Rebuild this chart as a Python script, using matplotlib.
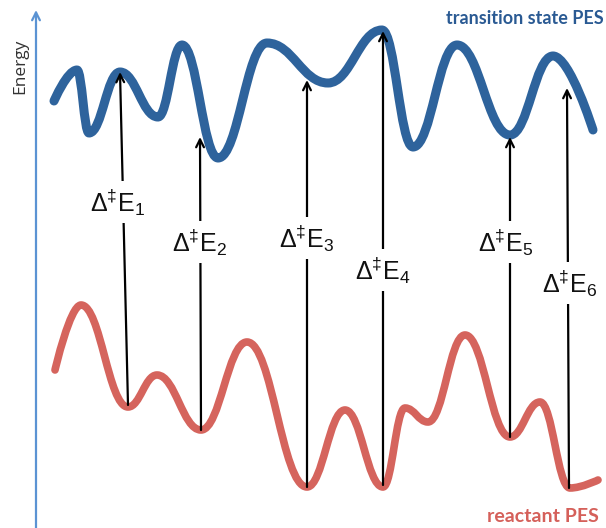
import matplotlib.pyplot as plt
from matplotlib.path import Path
from matplotlib.patches import PathPatch

plt.rcParams['font.family'] = ['Liberation Sans', 'DejaVu Sans']
plt.rcParams['mathtext.fontset'] = 'custom'
plt.rcParams['mathtext.rm'] = 'Liberation Sans'
plt.rcParams['mathtext.it'] = 'Liberation Sans'

# turning points of the two surfaces (picture coordinates, y downwards)
ts_x = [54, 77, 89, 120, 158, 182, 218, 267, 328, 382, 413, 457, 510, 553, 593]
ts_y = [101, 70, 133, 72, 117, 45, 158, 43, 83, 30, 147, 45, 135, 56, 130]
re_x = [55, 81, 128, 157, 201, 247, 307, 345, 383, 405, 428, 465, 510, 540, 570, 598]
re_y = [370, 305, 407, 375, 430, 342, 487, 410, 487, 408, 422, 335, 437, 402, 488, 480]

# barrier arrows: bottom (reactant) and top (transition state)
arrow_x0 = [128, 201, 307, 383, 510, 569]
arrow_y0 = [405, 430, 487, 485, 437, 488]
arrow_x1 = [120, 200, 307, 383, 510, 567]
arrow_y1 = [72, 137, 80, 31, 137, 88]
labels = [r'$\Delta^{\ddagger}\mathrm{E}_{%d}$' % i for i in range(1, 7)]
label_x = [118, 200, 307, 383, 506, 570]
label_y = [202, 242, 238, 270, 242, 283]


def smooth_path(xs, ys, k=0.42):
    verts = [(xs[0], ys[0])]
    codes = [Path.MOVETO]
    n = len(xs)
    for i in range(1, n):
        dx = xs[i] - xs[i - 1]
        c1 = (xs[i - 1] + k * dx, ys[i - 1]) if i > 1 else (xs[0], ys[0])
        c2 = (xs[i] - k * dx, ys[i]) if i < n - 1 else (xs[i], ys[i])
        verts += [c1, c2, (xs[i], ys[i])]
        codes += [Path.CURVE4] * 3
    return Path(verts, codes)


fig = plt.figure(figsize=(6.06, 5.28), dpi=100)
ax = fig.add_axes([0, 0, 1, 1])
ax.set_xlim(0, 606)
ax.set_ylim(528, 0)
ax.axis('off')

ax.add_patch(PathPatch(smooth_path(ts_x, ts_y), fill=False, edgecolor='#2e639c',
                       lw=6.5, capstyle='round', joinstyle='round', zorder=2))
ax.add_patch(PathPatch(smooth_path(re_x, re_y), fill=False, edgecolor='#d5645d',
                       lw=5.5, capstyle='round', joinstyle='round', zorder=2))

for i in range(len(labels)):
    ax.annotate('', xy=(arrow_x1[i], arrow_y1[i]), xytext=(arrow_x0[i], arrow_y0[i]),
                arrowprops=dict(arrowstyle='->', lw=1.6, color='black',
                                mutation_scale=14, shrinkA=0, shrinkB=0), zorder=3)
    ax.text(label_x[i], label_y[i], labels[i], fontsize=18, ha='center', va='center',
            color='#111111', zorder=4,
            bbox=dict(facecolor='white', edgecolor='none', pad=4))

# energy axis
ax.annotate('', xy=(36, 10), xytext=(36, 528),
            arrowprops=dict(arrowstyle='->', lw=1.6, color='#5b93d3',
                            mutation_scale=14, shrinkA=0, shrinkB=0))
ax.text(20, 66, 'Energy', rotation=90, fontsize=12.5, ha='center', va='center',
        color='#333333', family=['Open Sans', 'DejaVu Sans'])

ax.text(525, 18, 'transition state PES', fontsize=13, fontweight='bold',
        ha='center', va='center', color='#2a5a93', family=['Lato', 'DejaVu Sans'])
ax.text(543, 517, 'reactant PES', fontsize=14, fontweight='bold',
        ha='center', va='center', color='#d5605a', family=['Lato', 'DejaVu Sans'])

fig.savefig('out.png', dpi=100)
